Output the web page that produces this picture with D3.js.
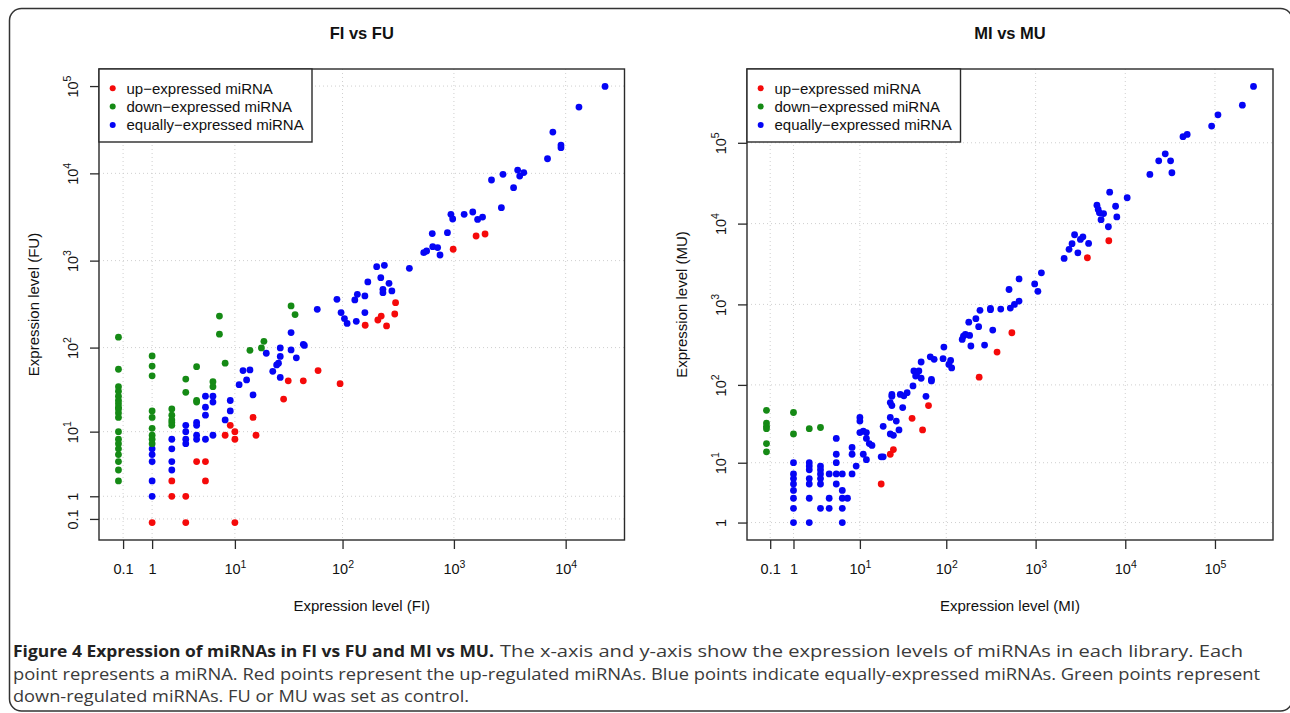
<!DOCTYPE html>
<html><head><meta charset="utf-8">
<script src="https://cdn.jsdelivr.net/npm/d3@7"></script>
<style>body{margin:0;background:#fff}svg{display:block}</style>
</head><body>
<svg id="c" width="1290" height="713"></svg>
<script>
// ---- data: [expression in I library, expression in U library] ----
const fiUp = [[1580,1915],[1900,2020],[985,1350],[300,329],[295,244],[223,231],[208,208],[160,181],[249,178],
  [32,41],[44,41],[29,25],[60,54],[95,38],[9,12],[8,9],[10,10],[10,8],[16,9],[15,15],
  [4,4],[5,4],[5,2],[2,2],[2,1],[3,1],[3,0],[1,0],[10,0]];
const fiDown = [[0,132],[0,56],[0,35],[0,31],[0,27],[0,24],[0,22],[0,20],[0,19],[0,17],[0,15],[0,10],[0,8],[0,7],[0,6],[0,5],[0,4],[0,3],[0,2],
  [1,80],[1,61],[1,47],[1,18],[1,15],[1,11],[1,9],[1,8],[1,7],
  [2,19],[2,16],[2,14],[2,13],[2,12],[3,43],[3,30],[4,60],[4,24],[4,23],[6,40],[6,35],
  [7,143],[7,231],[8,66],[14,93],[18,99],[19,118],[34,302],[37,240]];
const fiEqual = [[22500,99000],[13150,57500],[7680,29700],[9080,21100],[9080,19700],[6880,14700],[3720,10900],[2750,9740],[4220,10200],[3880,9310],[2170,8390],[3420,6850],[2660,4040],
  [940,3390],[975,3000],[1235,3390],[1475,3610],[1630,2970],[1805,3160],[640,2040],[875,2090],
  [537,1235],[570,1290],[646,1445],[715,1410],[751,1160],[399,817],
  [203,852],[238,884],[221,637],[262,549],[169,569],[231,469],[231,429],[278,449],
  [89,360],[136,411],[129,354],[159,393],[59,276],[97,253],[104,216],[110,190],[133,201],[159,253],
  [1,6],[1,5],[1,4],[1,2],[1,1],[2,8],[2,6],[2,4],[2,3],[3,12],[3,10],[3,8],[3,7],
  [4,13],[4,12],[4,9],[4,8],[5,27],[5,20],[5,16],[5,8],[6,27],[6,23],[6,9],
  [8,14],[9,24],[9,18],[11,37],[13,42],[12,54],[14,55],[15,28],[20,86],[23,53],[25,63],[26,66],[27,79],[27,99],[27,45],[34,149],[34,94],[38,76],[44,109],[45,106]];

const miUp = [[6550,6140],[3780,3780],[543,445],[371,256],[234,125],[63,55],[41,38],[54,27],[25,15],[23,13],[18,5]];
const miDown = [[0,48],[0,33],[0,30],[0,28],[0,18],[0,14],[1,45],[1,24],[2,28],[3,29]];
const miEqual = [[269000,498000],[202000,292000],[108000,222000],[91800,161000],[44000,119000],[49000,127000],
  [18800,40600],[23600,59800],[27900,73000],[32000,59800],[33100,42600],
  [6700,24500],[10500,20900],[4830,16900],[4990,15000],[5150,13600],[5730,13300],[7800,16400],[5370,11200],[8050,12100],[6480,9140],
  [2720,7280],[2550,5640],[2360,4800],[3160,6370],[3370,6870],[3900,5690],[2960,4350],[2080,3710],
  [1160,2460],[653,2070],[505,1530],[976,1790],[1060,1450],[653,1100],[580,1000],[522,900],[408,875],[313,890],[313,860],[239,845],
  [215,665],[179,603],[156,405],[164,425],[183,413],[151,368],[189,305],[231,529],[332,480],[269,313],
  [94,296],[66,224],[73,208],[92,212],[112,202],[115,163],[107,180],[52,193],[43,149],[46,135],[49,149],[45,129],[42,97],[52,121],[68,117],[68,112],
  [36,80],[30,76],[24,76],[24,72],[23,60],[24,55],[32,52],[59,72],[33,73],
  [23,39],[27,35],[29,27],[19,30],[23,24],[25,23],[18,12],[19,12],
  [10,39],[10,35],[10,25],[11,26],[12,25],[12,21],[13,18],[14,17],[11,13],[12,11],[8,16],[8,13],[9,9],[8,7],
  [1,10],[1,7],[1,6],[1,5],[1,4],[1,3],[1,2],[1,1],[2,10],[2,9],[2,8],[2,6],[2,5],[2,3],[2,1],
  [3,9],[3,8],[3,7],[3,6],[3,5],[3,2],[4,7],[4,3],[4,2],[5,21],[5,13],[5,10],[5,7],[5,5],
  [6,7],[6,4],[6,3],[6,2],[6,1],[7,3]];

const xTicksFI = [0.1,1,10,100,1000,10000];
const xLabelsFI = ["0.1","1","10^1","10^2","10^3","10^4"];
const yTicksFU = [0.1,1,10,100,1000,10000,100000];
const yLabelsFU = ["0.1","1","10^1","10^2","10^3","10^4","10^5"];
const xTicksMI = [0.1,1,10,100,1000,10000,100000];
const xLabelsMI = ["0.1","1","10^1","10^2","10^3","10^4","10^5"];
const yTicksMU = [1,10,100,1000,10000,100000];
const yLabelsMU = ["1","10^1","10^2","10^3","10^4","10^5"];

const seriesNames = ["up\u2212expressed miRNA","down\u2212expressed miRNA","equally\u2212expressed miRNA"];
const seriesColors = ["#f50a0a","#158a15","#0505f5"];

const svg = d3.select("#c");
const FONT = "'Liberation Sans', Arial, Helvetica, sans-serif";

svg.append("rect").attr("x",9.5).attr("y",8.5).attr("width",1283).attr("height",702.5)
  .attr("rx",12).attr("fill","none").attr("stroke","#333").attr("stroke-width",1.5);

function expandedDomain(vals){
  const L = vals.map(v=>Math.log10(v+1));
  const [lo,hi] = d3.extent(L);
  const pad = (hi-lo)*0.04;
  return [Math.pow(10,lo-pad), Math.pow(10,hi+pad)];
}

function supLabel(sel, labels){
  sel.each(function(d,i){
    const t = d3.select(this); t.text(null);
    const parts = labels[i].split("^");
    t.append("tspan").text(parts[0]);
    if(parts[1]) t.append("tspan").attr("font-size",10.5).attr("dy",-6.5).text(parts[1]);
  });
}

function panel(cfg){
  const {left,right,top,bottom} = cfg;
  const all = cfg.equal.concat(cfg.down, cfg.up);
  const x = d3.scaleLog().domain(expandedDomain(all.map(d=>d[0]))).range([left,right]);
  const y = d3.scaleLog().domain(expandedDomain(all.map(d=>d[1]))).range([bottom,top]);
  const g = svg.append("g");

  // grid
  g.selectAll(".gx").data(cfg.xTicks).join("line")
    .attr("x1",d=>x(d+1)).attr("x2",d=>x(d+1)).attr("y1",top).attr("y2",bottom)
    .attr("stroke","#cfcfcf").attr("stroke-dasharray","1,3").attr("stroke-width",1);
  g.selectAll(".gy").data(cfg.yTicks).join("line")
    .attr("y1",d=>y(d+1)).attr("y2",d=>y(d+1)).attr("x1",left).attr("x2",right)
    .attr("stroke","#cfcfcf").attr("stroke-dasharray","1,3").attr("stroke-width",1);

  // axes
  const ax = g.append("g").attr("transform",`translate(0,${bottom})`)
    .call(d3.axisBottom(x).tickValues(cfg.xTicks.map(v=>v+1)).tickSize(9).tickSizeOuter(0).tickFormat((d,i)=>cfg.xLabels[i]));
  ax.select(".domain").remove();
  ax.attr("font-family",FONT).attr("font-size",14.5);
  ax.selectAll(".tick line").attr("stroke","#2a2a2a").attr("stroke-width",1.3);
  ax.selectAll(".tick text").attr("y",34).attr("dy",null).attr("fill","#111").call(supLabel, cfg.xLabels);

  const ay = g.append("g").attr("transform",`translate(${left},0)`)
    .call(d3.axisLeft(y).tickValues(cfg.yTicks.map(v=>v+1)).tickSize(9).tickSizeOuter(0).tickFormat((d,i)=>cfg.yLabels[i]));
  ay.select(".domain").remove();
  ay.attr("font-family",FONT).attr("font-size",14.5);
  ay.selectAll(".tick line").attr("stroke","#2a2a2a").attr("stroke-width",1.3);
  ay.selectAll(".tick text").attr("x",0).attr("y",-21.5).attr("dy",null).attr("text-anchor","middle")
    .attr("transform","rotate(-90)").attr("fill","#111").call(supLabel, cfg.yLabels);

  // points
  const groups = [[cfg.equal,2],[cfg.down,1],[cfg.up,0]];
  groups.forEach(([data,k])=>{
    g.append("g").selectAll("circle").data(data).join("circle")
      .attr("cx",d=>x(d[0]+1)).attr("cy",d=>y(d[1]+1)).attr("r",3.4)
      .attr("fill",seriesColors[k]);
  });

  // frame
  g.append("rect").attr("x",left).attr("y",top).attr("width",right-left).attr("height",bottom-top)
    .attr("fill","none").attr("stroke","#2a2a2a").attr("stroke-width",1.4);

  // legend
  const lg = g.append("g").attr("transform",`translate(${left},${top})`);
  lg.append("rect").attr("x",0).attr("y",0).attr("width",cfg.legendW).attr("height",73)
    .attr("fill","#fff").attr("stroke","#2a2a2a").attr("stroke-width",1.4);
  seriesNames.forEach((n,i)=>{
    lg.append("circle").attr("cx",13.7).attr("cy",19.3+i*18.3).attr("r",3).attr("fill",seriesColors[i]);
    lg.append("text").attr("x",27.5).attr("y",19.3+i*18.3+5.2).attr("font-family",FONT).attr("font-size",15)
      .attr("fill","#111").text(n);
  });

  const cx = (left+right)/2;
  g.append("text").attr("x",cx).attr("y",38.5).attr("text-anchor","middle").attr("font-family",FONT)
    .attr("font-weight","bold").attr("font-size",16.5).attr("fill","#111").text(cfg.title);
  g.append("text").attr("x",cx).attr("y",611).attr("text-anchor","middle").attr("font-family",FONT)
    .attr("font-size",15).attr("fill","#111").text(cfg.xTitle);
  g.append("text").attr("transform",`translate(${left-60},${(top+bottom)/2}) rotate(-90)`)
    .attr("text-anchor","middle").attr("font-family",FONT).attr("font-size",15).attr("fill","#111").text(cfg.yTitle);
}

panel({left:99,right:624.5,top:69,bottom:540,up:fiUp,down:fiDown,equal:fiEqual,
  xTicks:xTicksFI,xLabels:xLabelsFI,yTicks:yTicksFU,yLabels:yLabelsFU,legendW:213,
  title:"FI vs FU",xTitle:"Expression level (FI)",yTitle:"Expression level (FU)"});
panel({left:747,right:1273,top:69,bottom:540,up:miUp,down:miDown,equal:miEqual,
  xTicks:xTicksMI,xLabels:xLabelsMI,yTicks:yTicksMU,yLabels:yLabelsMU,legendW:213.5,
  title:"MI vs MU",xTitle:"Expression level (MI)",yTitle:"Expression level (MU)"});

// caption
const CF = "'Open Sans', 'Noto Sans', sans-serif";
const cap = svg.append("g").attr("font-family",CF).attr("font-size",16.5).attr("fill","#3a3a3a");
cap.append("text").attr("x",13).attr("y",657).attr("font-weight","bold").attr("fill","#222")
  .attr("textLength",481).attr("lengthAdjust","spacingAndGlyphs")
  .text("Figure 4 Expression of miRNAs in FI vs FU and MI vs MU.");
cap.append("text").attr("x",500).attr("y",657).attr("textLength",743).attr("lengthAdjust","spacingAndGlyphs")
  .text("The x-axis and y-axis show the expression levels of miRNAs in each library. Each");
cap.append("text").attr("x",13).attr("y",680).attr("textLength",1247).attr("lengthAdjust","spacingAndGlyphs")
  .text("point represents a miRNA. Red points represent the up-regulated miRNAs. Blue points indicate equally-expressed miRNAs. Green points represent");
cap.append("text").attr("x",13).attr("y",702).attr("textLength",456).attr("lengthAdjust","spacingAndGlyphs")
  .text("down-regulated miRNAs. FU or MU was set as control.");
</script>
</body></html>
